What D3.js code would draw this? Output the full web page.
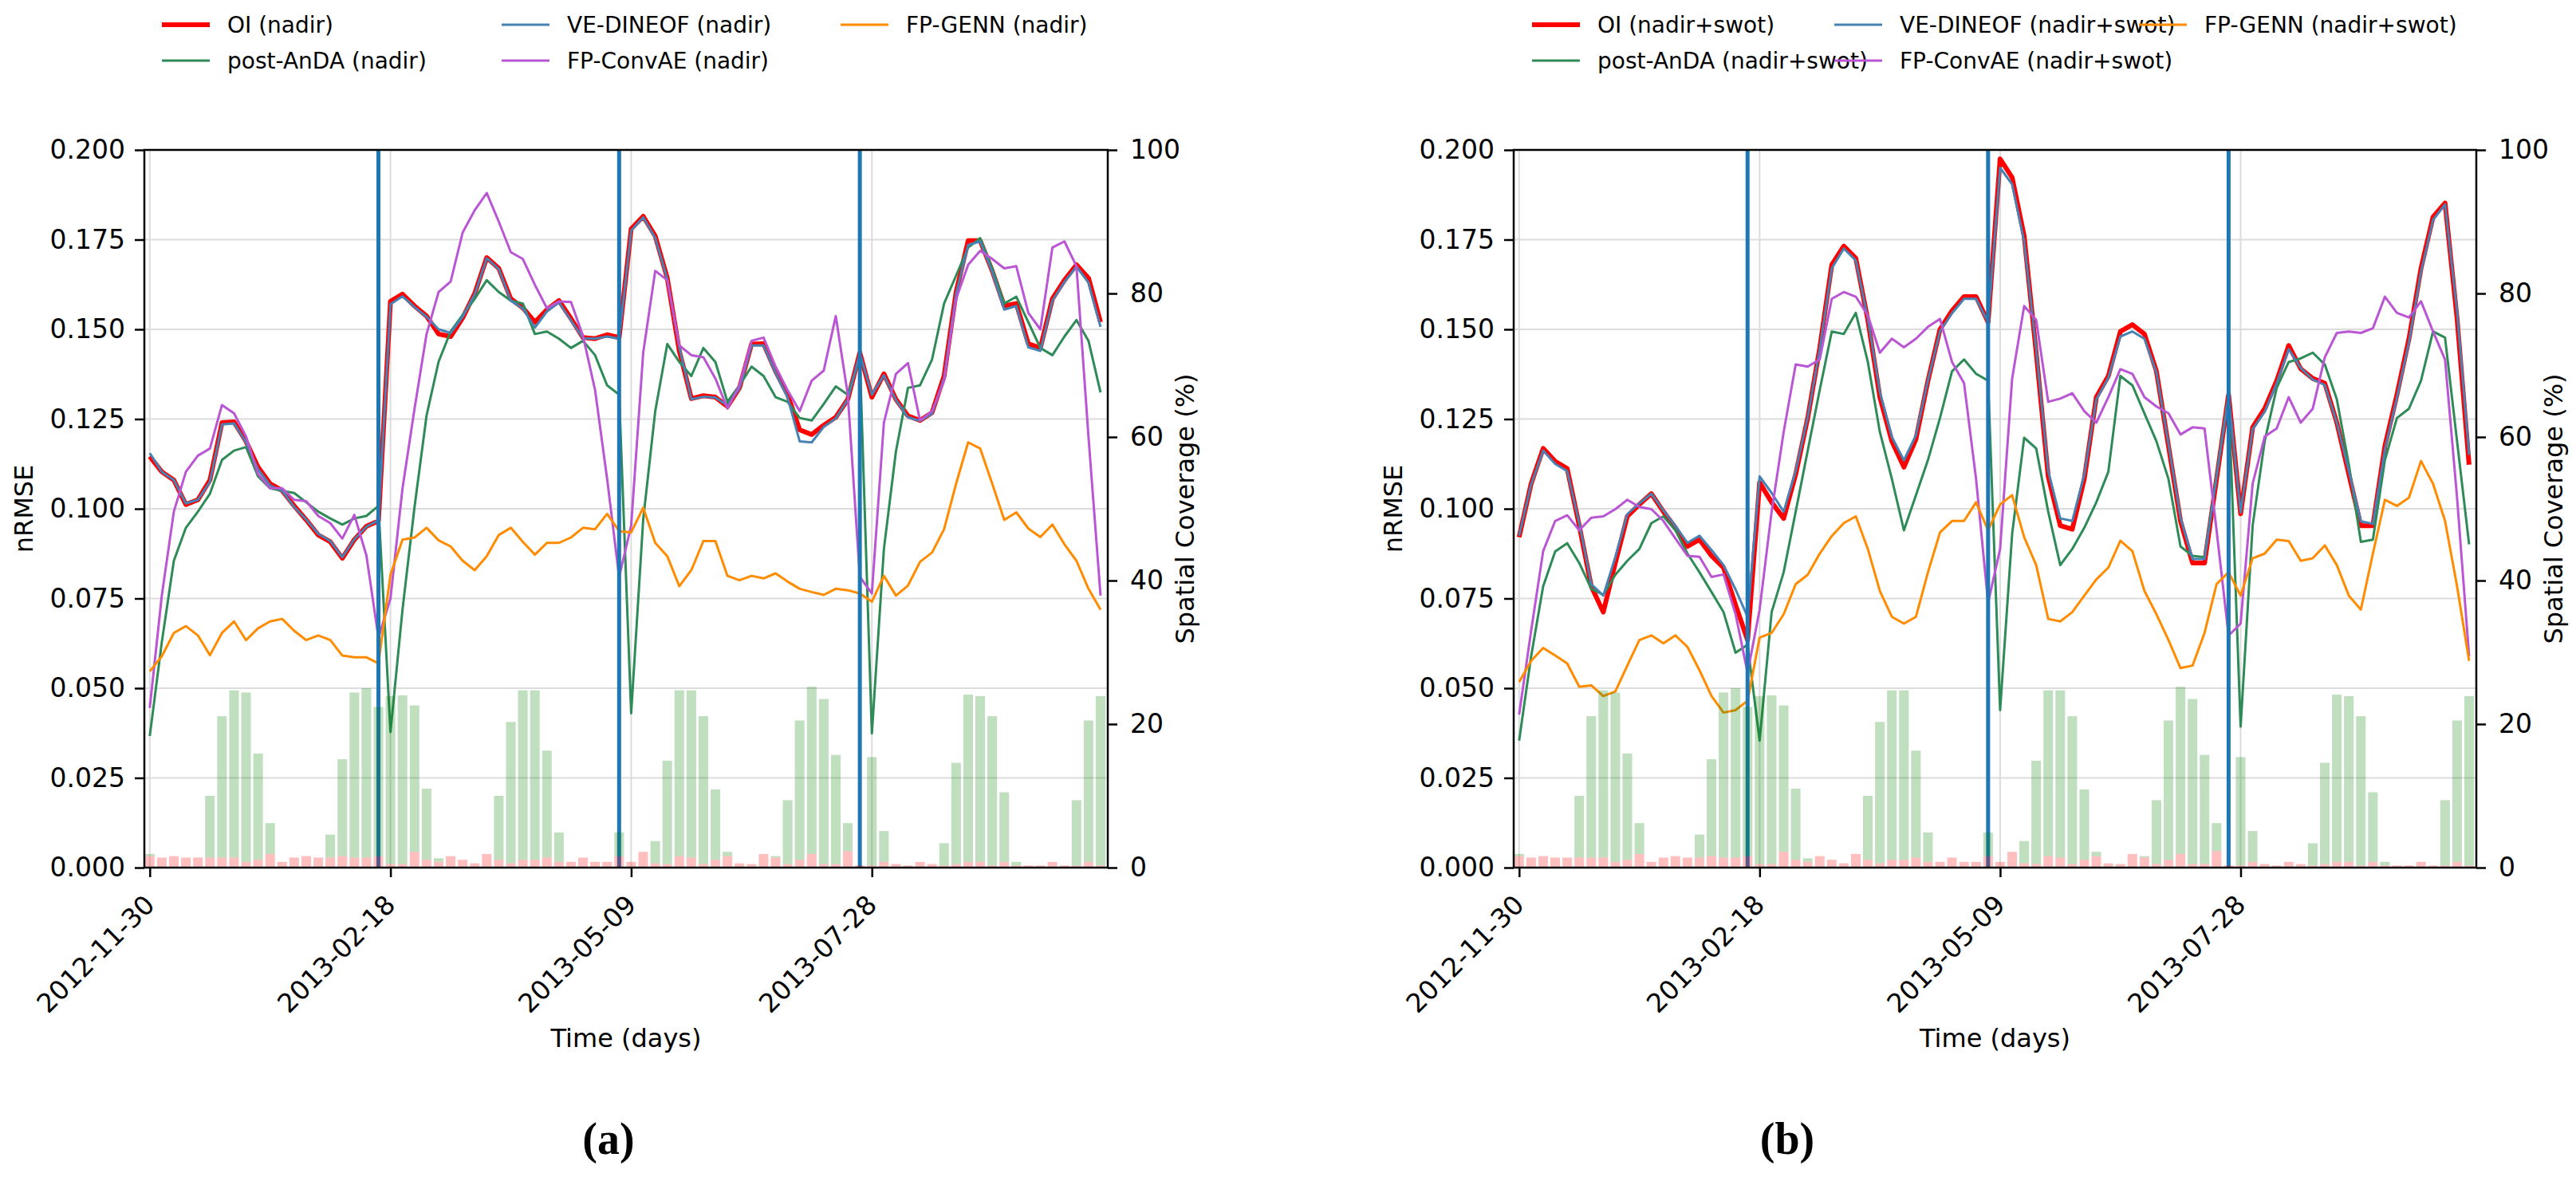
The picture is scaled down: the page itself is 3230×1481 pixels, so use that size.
<!DOCTYPE html>
<html>
<head>
<meta charset="utf-8">
<script src="https://cdnjs.cloudflare.com/ajax/libs/d3/7.8.5/d3.min.js"></script>
<style>
  body { margin: 0; background: #fff; }
  text { font-family: "DejaVu Sans", sans-serif; fill: #000; }
</style>
</head>
<body>
<svg id="chart" width="3230" height="1481"></svg>
<script>
// x positions are sample indices (one sample every 4 days)
const tickIdx = [0, 20, 40, 60];
const tickLabels = ["2012-11-30", "2013-02-18", "2013-05-09", "2013-07-28"];
const switchIdx = [19, 39, 59];
const rmseTicks = [0, 0.025, 0.05, 0.075, 0.1, 0.125, 0.15, 0.175, 0.2];
const coverTicks = [0, 20, 40, 60, 80, 100];

// spatial coverage (%) - same for both panels
const coverAll = [1.9,1.4,1.6,1.4,1.4,10.0,21.1,24.7,24.4,15.9,
  6.2,0.8,1.4,1.6,1.4,4.6,15.1,24.4,25.0,22.4,
  23.9,24.0,22.6,11.0,1.3,1.6,1.1,0.6,1.9,10.0,
  20.3,24.7,24.7,16.3,4.9,0.8,1.4,0.8,0.8,4.9,
  0.8,2.2,3.7,14.9,24.7,24.7,21.1,10.9,2.2,0.6,
  0.5,1.9,1.6,9.4,20.5,25.2,23.5,15.7,6.2,0.3,
  15.4,5.1,0.5,0.3,0.8,0.5,3.4,14.6,24.1,23.9,
  21.1,10.5,0.8,0.3,0.3,0.8,0.3,9.4,20.5,23.9];
const coverLow = [1.6,1.4,1.6,1.4,1.4,1.4,1.4,1.4,0.8,1.1,
  1.9,0.8,1.4,1.6,1.4,1.4,1.6,1.4,1.4,1.6,
  0.5,0.5,2.2,1.1,0.8,1.6,1.1,0.6,1.9,1.1,
  0.6,1.1,1.1,1.4,0.8,0.8,1.4,0.8,0.8,1.6,
  0.8,2.2,0.6,0.5,1.6,1.4,0.5,1.1,1.6,0.6,
  0.5,1.9,1.4,0.5,1.1,1.9,0.5,0.5,2.3,0.3,
  0.3,0.8,0.5,0.3,0.8,0.5,0.3,0.5,0.8,0.8,
  0.3,0.8,0.3,0.3,0.3,0.8,0.3,0.3,0.8,0.3];

// panel (a) nadir
const oiNadir = [0.1146,0.1103,0.108,0.1012,0.1025,0.108,0.124,0.1242,0.1188,0.1116,
  0.107,0.1051,0.1008,0.0969,0.0927,0.0908,0.0862,0.0914,0.0951,0.0966,
  0.1578,0.1598,0.1565,0.1537,0.1487,0.148,0.1532,0.160,0.170,0.167,
  0.1585,0.156,0.152,0.1555,0.158,0.153,0.1477,0.1474,0.1485,0.1477,
  0.178,0.1815,0.176,0.1643,0.144,0.1307,0.1315,0.1311,0.1285,0.1337,
  0.1459,0.146,0.1383,0.1318,0.122,0.1207,0.1233,0.1255,0.1305,0.1435,
  0.1311,0.1376,0.1305,0.1259,0.1246,0.1268,0.137,0.1604,0.1747,0.1747,
  0.1663,0.1565,0.1572,0.146,0.1448,0.1585,0.1637,0.168,0.1643,0.152];
const dineofNadir = [0.1155,0.1103,0.108,0.1015,0.1025,0.1075,0.1235,0.1238,0.1185,0.111,
  0.1065,0.105,0.1005,0.097,0.093,0.091,0.0865,0.0915,0.095,0.0968,
  0.157,0.1592,0.1562,0.1535,0.150,0.149,0.1535,0.1598,0.1698,0.1668,
  0.158,0.1558,0.1505,0.155,0.1575,0.1525,0.1475,0.1474,0.148,0.1474,
  0.1775,0.1812,0.1755,0.164,0.145,0.1305,0.1312,0.131,0.1288,0.1335,
  0.1455,0.1455,0.1378,0.131,0.1188,0.1185,0.1228,0.1252,0.1305,0.1433,
  0.1318,0.1372,0.1303,0.1255,0.1245,0.1265,0.1365,0.16,0.1735,0.1745,
  0.166,0.1555,0.1565,0.145,0.144,0.158,0.1632,0.1675,0.163,0.1507];
const andaNadir = [0.0367,0.0628,0.0855,0.0947,0.0992,0.1042,0.1136,0.1162,0.1172,0.109,
  0.1057,0.105,0.1044,0.1018,0.0992,0.0973,0.0956,0.0973,0.098,0.1008,
  0.0378,0.0719,0.1005,0.126,0.141,0.1494,0.154,0.1585,0.1637,0.1604,
  0.158,0.1572,0.1487,0.1494,0.1474,0.1448,0.1468,0.1428,0.1344,0.1318,
  0.043,0.097,0.1272,0.1459,0.1409,0.137,0.1448,0.1409,0.1298,0.1344,
  0.1396,0.137,0.1311,0.1298,0.1253,0.1246,0.1292,0.1341,0.1318,0.1422,
  0.0374,0.0888,0.116,0.1337,0.1344,0.1416,0.1572,0.165,0.1728,0.1754,
  0.167,0.1572,0.1591,0.152,0.1448,0.1428,0.148,0.1526,0.1468,0.1324];
const convaeNadir = [0.0445,0.0758,0.0992,0.1103,0.1148,0.1168,0.1289,0.1266,0.1201,0.1097,
  0.1057,0.1057,0.1025,0.1021,0.098,0.096,0.0917,0.0983,0.087,0.0641,
  0.075,0.1057,0.1279,0.1487,0.1604,0.1633,0.177,0.1832,0.188,0.18,
  0.1715,0.1696,0.1624,0.1559,0.1578,0.1576,0.1481,0.1331,0.1084,0.081,
  0.0953,0.1435,0.1663,0.1637,0.1455,0.1428,0.1422,0.1363,0.1279,0.1344,
  0.1468,0.1477,0.1396,0.133,0.1272,0.1357,0.1385,0.1537,0.1318,0.081,
  0.0764,0.124,0.1376,0.1406,0.1246,0.1272,0.1357,0.1585,0.168,0.1719,
  0.1696,0.167,0.1676,0.1546,0.15,0.1728,0.1745,0.1676,0.12,0.0758];
const gennNadir = [0.0547,0.0589,0.0654,0.0673,0.0647,0.0592,0.0654,0.0686,0.0634,0.0667,
  0.0686,0.0693,0.066,0.0634,0.0647,0.0634,0.0591,0.0586,0.0586,0.0569,
  0.0816,0.0914,0.092,0.0947,0.0912,0.0895,0.0855,0.0829,0.0868,0.0927,
  0.0947,0.0908,0.0872,0.0905,0.0905,0.092,0.0947,0.0943,0.0986,0.0938,
  0.0934,0.1003,0.0905,0.0868,0.0784,0.0829,0.091,0.091,0.0813,0.0801,
  0.0813,0.0806,0.082,0.0797,0.0777,0.0768,0.076,0.0777,0.0773,0.0764,
  0.0741,0.0813,0.0758,0.0786,0.0852,0.0878,0.0943,0.107,0.1185,0.1168,
  0.107,0.0969,0.099,0.0945,0.0921,0.0956,0.0901,0.0855,0.0777,0.0719];

// panel (b) nadir+swot
const oiSwot = [0.0921,0.107,0.1168,0.1132,0.1112,0.0953,0.0784,0.0712,0.0849,0.0979,
  0.1012,0.1042,0.0992,0.0947,0.0895,0.0914,0.0869,0.0836,0.0732,0.0634,
  0.1073,0.1018,0.0973,0.1096,0.1253,0.1448,0.168,0.1732,0.1698,0.1526,
  0.1311,0.1188,0.1116,0.1194,0.1357,0.15,0.1552,0.1591,0.1591,0.152,
  0.1975,0.1923,0.176,0.1435,0.109,0.0953,0.0943,0.1083,0.1311,0.137,
  0.1494,0.1513,0.1487,0.1383,0.1175,0.0966,0.0849,0.0849,0.1083,0.1318,
  0.0986,0.1227,0.1279,0.1357,0.1455,0.139,0.1363,0.135,0.124,0.1096,
  0.0953,0.0953,0.1175,0.1318,0.1474,0.167,0.1813,0.1852,0.153,0.1123];
const dineofSwot = [0.0925,0.1068,0.1162,0.1125,0.1105,0.096,0.079,0.0758,0.0865,0.0985,
  0.1015,0.1042,0.0995,0.0952,0.0905,0.0925,0.0885,0.0843,0.0775,0.0699,
  0.109,0.1044,0.0992,0.1105,0.1255,0.1445,0.167,0.1725,0.1692,0.153,
  0.1325,0.12,0.1135,0.1205,0.1358,0.1495,0.1545,0.1585,0.1585,0.152,
  0.195,0.1904,0.1745,0.1445,0.1105,0.0973,0.0966,0.1095,0.1305,0.1365,
  0.148,0.1494,0.1474,0.138,0.118,0.0975,0.086,0.086,0.109,0.1315,
  0.099,0.1222,0.127,0.135,0.1445,0.1392,0.136,0.1345,0.124,0.1105,
  0.0965,0.0958,0.1165,0.131,0.1465,0.166,0.1805,0.1848,0.155,0.115];
const andaSwot = [0.0354,0.0589,0.0784,0.0881,0.0904,0.0849,0.0777,0.076,0.0816,0.0855,
  0.0888,0.096,0.0979,0.094,0.0875,0.0823,0.0768,0.0712,0.0599,0.0621,
  0.0354,0.0712,0.0823,0.0992,0.1162,0.1331,0.1494,0.1487,0.1546,0.1409,
  0.1214,0.1083,0.094,0.1038,0.1136,0.1253,0.1383,0.1416,0.1376,0.1357,
  0.0439,0.093,0.1198,0.1168,0.0992,0.0843,0.0888,0.0947,0.1018,0.1103,
  0.137,0.1344,0.1266,0.1188,0.1083,0.0895,0.0869,0.0865,0.1092,0.1318,
  0.0393,0.0953,0.1188,0.1337,0.1409,0.1419,0.1435,0.1402,0.1305,0.1123,
  0.0908,0.0914,0.1136,0.1253,0.1279,0.1357,0.1494,0.1477,0.1188,0.0901];
const convaeSwot = [0.0426,0.066,0.0882,0.0966,0.0982,0.094,0.0975,0.0979,0.0999,0.1025,
  0.1005,0.0999,0.0966,0.0917,0.0869,0.0866,0.081,0.0817,0.0706,0.0543,
  0.0719,0.0992,0.1214,0.1402,0.1396,0.1416,0.1585,0.1604,0.1591,0.1539,
  0.1435,0.1474,0.145,0.1474,0.1507,0.1529,0.1409,0.135,0.1083,0.0738,
  0.0888,0.1363,0.1565,0.1526,0.1298,0.1307,0.1322,0.1272,0.124,0.1311,
  0.1389,0.1376,0.1311,0.1285,0.1266,0.1207,0.1227,0.1224,0.094,0.0647,
  0.068,0.107,0.1201,0.1224,0.1311,0.124,0.1279,0.1422,0.149,0.1494,
  0.149,0.1503,0.1591,0.1546,0.1533,0.1578,0.1494,0.1416,0.1031,0.0589];
const gennSwot = [0.0517,0.0576,0.0612,0.0591,0.0569,0.0504,0.0508,0.0478,0.0491,0.0563,
  0.0634,0.0647,0.0625,0.0647,0.0615,0.055,0.0478,0.0432,0.0439,0.0465,
  0.0641,0.0654,0.0706,0.079,0.0816,0.0875,0.0924,0.096,0.0979,0.0888,
  0.0771,0.0699,0.068,0.0699,0.0823,0.0934,0.0966,0.0966,0.1018,0.094,
  0.1012,0.1038,0.0921,0.0843,0.0693,0.0686,0.0712,0.0758,0.0803,0.0836,
  0.0911,0.0882,0.0771,0.0706,0.0634,0.0556,0.0563,0.0654,0.079,0.0823,
  0.0758,0.0862,0.0875,0.0914,0.091,0.0855,0.0862,0.0898,0.0843,0.0758,
  0.0719,0.0875,0.1025,0.1008,0.1031,0.1133,0.107,0.0966,0.0784,0.0576];

// plotting order = legend order (column-major, 3 columns)
const methods = ["OI", "post-AnDA", "VE-DINEOF", "FP-ConvAE", "FP-GENN"];
const colors = ["red", "seagreen", "steelblue", "mediumorchid", "darkorange"];
const widths = [6, 3, 3, 3, 3];

const TOP = 188, BOTTOM = 1088;
const svg = d3.select("#chart");

const panels = [
  { left: 181, right: 1389, tag: "nadir", letter: "(a)", letterX: 763,
    series: [oiNadir, andaNadir, dineofNadir, convaeNadir, gennNadir],
    legendX: [203, 629, 1054] },
  { left: 1898, right: 3105, tag: "nadir+swot", letter: "(b)", letterX: 2241,
    series: [oiSwot, andaSwot, dineofSwot, convaeSwot, gennSwot],
    legendX: [1921, 2300, 2682] }
];

panels.forEach(function(p) {
  drawPanel(p);
});

function drawPanel(p) {
  let x = d3.scaleLinear().domain([-0.45, 79.6]).range([p.left, p.right]);
  let y = d3.scaleLinear().domain([0, 0.2]).range([BOTTOM, TOP]);
  let yc = d3.scaleLinear().domain([0, 100]).range([BOTTOM, TOP]);
  let g = svg.append("g");

  // grid
  g.selectAll(".hgrid").data(rmseTicks).enter().append("line")
    .attr("x1", p.left).attr("x2", p.right)
    .attr("y1", d => y(d)).attr("y2", d => y(d))
    .attr("stroke", "#dcdcdc").attr("stroke-width", 2);
  g.selectAll(".vgrid").data(tickIdx).enter().append("line")
    .attr("x1", d => x(d)).attr("x2", d => x(d))
    .attr("y1", TOP).attr("y2", BOTTOM)
    .attr("stroke", "#dcdcdc").attr("stroke-width", 2);

  // curves
  let line = d3.line().x((d, i) => x(i)).y(d => y(d));
  p.series.forEach(function(s, k) {
    g.append("path").datum(s)
      .attr("d", line)
      .attr("fill", "none")
      .attr("stroke", colors[k])
      .attr("stroke-width", widths[k])
      .attr("stroke-linejoin", "round");
  });

  // switch markers
  g.selectAll(".switch").data(switchIdx).enter().append("line")
    .attr("x1", d => x(d)).attr("x2", d => x(d))
    .attr("y1", TOP).attr("y2", BOTTOM)
    .attr("stroke", "#1f77b4").attr("stroke-width", 5);

  // coverage bars (twin axis, drawn on top)
  let bw = x(0.4) - x(0);
  g.selectAll(".low").data(coverLow).enter().append("rect")
    .attr("x", (d, i) => x(i) - bw).attr("width", 2 * bw)
    .attr("y", d => yc(d)).attr("height", d => BOTTOM - yc(d))
    .attr("fill", "red").attr("fill-opacity", 0.25);
  g.selectAll(".all").data(coverAll).enter().append("rect")
    .attr("x", (d, i) => x(i) - bw).attr("width", 2 * bw)
    .attr("y", d => yc(d))
    .attr("height", (d, i) => Math.max(0, yc(coverLow[i]) - yc(d)))
    .attr("fill", "green").attr("fill-opacity", 0.25);

  // frame
  g.append("rect").attr("x", p.left).attr("y", TOP)
    .attr("width", p.right - p.left).attr("height", BOTTOM - TOP)
    .attr("fill", "none").attr("stroke", "#000").attr("stroke-width", 2.5);

  // axes
  let yAxis = g.append("g").attr("transform", "translate(" + p.left + ",0)")
    .call(d3.axisLeft(y).tickValues(rmseTicks).tickFormat(d3.format(".3f")).tickSize(12).tickPadding(12));
  let rAxis = g.append("g").attr("transform", "translate(" + p.right + ",0)")
    .call(d3.axisRight(yc).tickValues(coverTicks).tickSize(12).tickPadding(16));
  let xAxis = g.append("g").attr("transform", "translate(0," + BOTTOM + ")")
    .call(d3.axisBottom(x).tickValues(tickIdx).tickFormat((d, i) => tickLabels[i]).tickSize(12));
  [yAxis, rAxis, xAxis].forEach(function(a) {
    a.select(".domain").remove();
    a.selectAll(".tick line").attr("stroke", "#000").attr("stroke-width", 2.5);
    a.selectAll("text").style("font-size", "33px").attr("fill", "#000");
  });
  xAxis.selectAll("text")
    .attr("x", 0).attr("y", 0).attr("dy", "0.71em")
    .attr("text-anchor", "end")
    .attr("transform", "translate(-9,32) rotate(-45)");

  // axis titles
  let cx = (p.left + p.right) / 2;
  let cy = (TOP + BOTTOM) / 2;
  g.append("text").attr("transform", "translate(" + (p.left - 140) + "," + cy + ") rotate(-90)")
    .attr("text-anchor", "middle").style("font-size", "32px").text("nRMSE");
  g.append("text").attr("transform", "translate(" + (p.right + 108) + "," + cy + ") rotate(-90)")
    .attr("text-anchor", "middle").style("font-size", "32px").text("Spatial Coverage (%)");
  g.append("text").attr("x", cx).attr("y", 1313)
    .attr("text-anchor", "middle").style("font-size", "32px").text("Time (days)");
  g.append("text").attr("x", p.letterX).attr("y", 1447)
    .attr("text-anchor", "middle")
    .style("font-family", "'Liberation Serif', serif").style("font-weight", "bold")
    .style("font-size", "56px").text(p.letter);

  // legend, 3 columns filled column by column
  methods.forEach(function(m, k) {
    let col = Math.floor(k / 2), row = k % 2;
    let lx = p.legendX[col], ly = 31 + row * 45;
    g.append("line").attr("x1", lx).attr("x2", lx + 60)
      .attr("y1", ly).attr("y2", ly)
      .attr("stroke", colors[k]).attr("stroke-width", widths[k]);
    g.append("text").attr("x", lx + 82).attr("y", ly).attr("dy", "0.35em")
      .style("font-size", "28px").text(m + " (" + p.tag + ")");
  });
}
</script>
</body>
</html>
